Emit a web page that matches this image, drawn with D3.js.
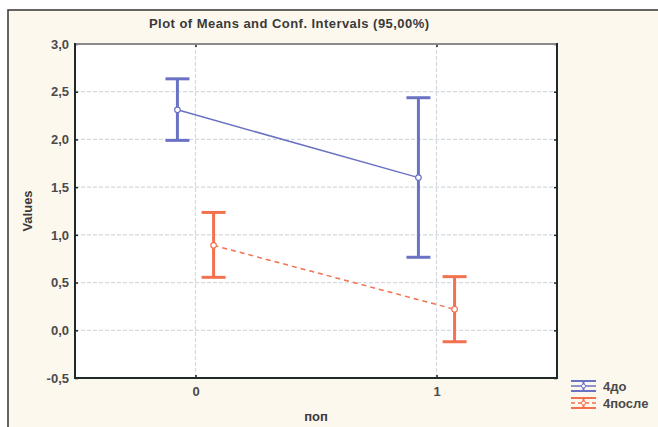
<!DOCTYPE html>
<html>
<head>
<meta charset="utf-8">
<script src="https://cdn.jsdelivr.net/npm/d3@7"></script>
<style>
  body { margin: 0; background: #fff; }
  text { font-family: "Liberation Sans", Arial, sans-serif; }
</style>
</head>
<body>
<script>
const svgWidth = 658;
const svgHeight = 427;

// data
const categories = [0, 1];
const seriesNames = ["4до", "4после"];
const meansDo = [2.31, 1.60];
const lowDo = [1.99, 0.765];
const highDo = [2.635, 2.437];
const meansPosle = [0.89, 0.22];
const lowPosle = [0.555, -0.12];
const highPosle = [1.235, 0.562];
const yTicks = [-0.5, 0, 0.5, 1, 1.5, 2, 2.5, 3];

const colors = ["#6a73c3", "#f2714f"];
const offsets = [-0.075, 0.075];

const plot = {left: 75, top: 44, right: 557, bottom: 378};

const svg = d3.select("body").append("svg")
            .attr("width", svgWidth)
            .attr("height", svgHeight);

//background + frame
svg.append("rect").attr("x", 0).attr("y", 0).attr("width", svgWidth).attr("height", svgHeight).attr("fill", "#fff");
svg.append("rect").attr("x", 8).attr("y", 10).attr("width", svgWidth).attr("height", svgHeight)
   .attr("fill", "#fdf8ee").attr("stroke", "#333").attr("stroke-width", 1.5);

var xScale = d3.scaleLinear().domain([-0.5, 1.5]).range([plot.left, plot.right]);
var yScale = d3.scaleLinear().domain([-0.5, 3.0]).range([plot.bottom, plot.top]);

svg.append("rect")
   .attr("x", plot.left).attr("y", plot.top)
   .attr("width", plot.right - plot.left).attr("height", plot.bottom - plot.top)
   .attr("fill", "#fff");

//grid
yTicks.slice(1, -1).forEach(function(t) {
  svg.append("line")
     .attr("x1", plot.left).attr("x2", plot.right)
     .attr("y1", yScale(t)).attr("y2", yScale(t))
     .style("stroke", "#d3d9df").style("stroke-dasharray", "4,2").style("stroke-width", 1.2);
});
categories.forEach(function(c) {
  svg.append("line")
     .attr("x1", xScale(c)).attr("x2", xScale(c))
     .attr("y1", plot.top).attr("y2", plot.bottom)
     .style("stroke", "#d3d9df").style("stroke-dasharray", "4,2").style("stroke-width", 1.2);
});

//axes
var y_axis = d3.axisLeft(yScale).tickValues(yTicks).tickSize(-3)
               .tickFormat(d => d3.format(".1f")(d).replace(".", ",").replace("\u2212", "-"));
var y_axis_r = d3.axisRight(yScale).tickValues(yTicks).tickSize(-3).tickFormat("");
var x_axis = d3.axisBottom(xScale).tickValues(categories).tickSize(-3).tickFormat(d3.format("d"));
var x_axis_t = d3.axisTop(xScale).tickValues(categories).tickSize(-3).tickFormat("");

function styleAxis(g) {
  g.select(".domain").remove();
  g.selectAll(".tick line").attr("stroke", "#222").attr("stroke-width", 1.5);
  g.selectAll(".tick text").attr("fill", "#4a4a4a").style("font-size", "13px").style("font-weight", "bold");
}
svg.append("g").attr("transform", "translate(" + plot.left + ",0)").call(y_axis).call(styleAxis)
   .selectAll(".tick text").attr("x", -6);
svg.append("g").attr("transform", "translate(" + plot.right + ",0)").call(y_axis_r).call(styleAxis);
svg.append("g").attr("transform", "translate(0," + plot.bottom + ")").call(x_axis).call(styleAxis)
   .selectAll(".tick text").attr("y", 9);
svg.append("g").attr("transform", "translate(0," + plot.top + ")").call(x_axis_t).call(styleAxis);

//plot border
svg.append("line").attr("x1", plot.left).attr("x2", plot.right).attr("y1", plot.top).attr("y2", plot.top)
   .attr("stroke", "#8a8a8a").attr("stroke-width", 2);
svg.append("line").attr("x1", plot.left).attr("x2", plot.left).attr("y1", plot.top - 1).attr("y2", plot.bottom + 1)
   .attr("stroke", "#1e2a2a").attr("stroke-width", 2);
svg.append("line").attr("x1", plot.right).attr("x2", plot.right).attr("y1", plot.top - 1).attr("y2", plot.bottom + 1)
   .attr("stroke", "#1e2a2a").attr("stroke-width", 2);
svg.append("line").attr("x1", plot.left).attr("x2", plot.right).attr("y1", plot.bottom).attr("y2", plot.bottom)
   .attr("stroke", "#1e2a2a").attr("stroke-width", 2);

//series
const series = [
  {name: seriesNames[0], means: meansDo, low: lowDo, high: highDo, color: colors[0], off: offsets[0], dash: null},
  {name: seriesNames[1], means: meansPosle, low: lowPosle, high: highPosle, color: colors[1], off: offsets[1], dash: "5,4"}
];

const line = d3.line()
             .x(function(d) { return xScale(d[0]); })
             .y(function(d) { return yScale(d[1]); });

series.forEach(function(s) {
  let pts = categories.map((c, i) => [c + s.off, s.means[i]]);
  svg.append("path").attr("d", line(pts))
     .attr("fill", "none").attr("stroke", s.color).attr("stroke-width", 1.5)
     .style("stroke-dasharray", s.dash);
  categories.forEach(function(c, i) {
    let x = xScale(c + s.off);
    svg.append("line").attr("x1", x).attr("x2", x)
       .attr("y1", yScale(s.low[i])).attr("y2", yScale(s.high[i]))
       .attr("stroke", s.color).attr("stroke-width", 3);
    [s.low[i], s.high[i]].forEach(function(v) {
      svg.append("line").attr("x1", x - 12).attr("x2", x + 12)
         .attr("y1", yScale(v)).attr("y2", yScale(v))
         .attr("stroke", s.color).attr("stroke-width", 3);
    });
    svg.append("circle").attr("cx", x).attr("cy", yScale(s.means[i])).attr("r", 2.8)
       .attr("fill", "#fff").attr("stroke", s.color).attr("stroke-width", 1.2);
  });
});

//titles
svg.append("text").attr("x", 289).attr("y", 28).attr("text-anchor", "middle")
   .style("font-size", "13px").style("font-weight", "bold").attr("fill", "#3a3a3a")
   .attr("textLength", 280).attr("lengthAdjust", "spacing")
   .text("Plot of Means and Conf. Intervals (95,00%)");
svg.append("text").attr("transform", "translate(32," + ((plot.top + plot.bottom) / 2) + ") rotate(-90)")
   .attr("text-anchor", "middle").style("font-size", "13px").style("font-weight", "bold").attr("fill", "#3a3a3a")
   .text("Values");
svg.append("text").attr("x", (plot.left + plot.right) / 2).attr("y", 421).attr("text-anchor", "middle")
   .style("font-size", "13px").style("font-weight", "bold").attr("fill", "#3a3a3a")
   .text("поп");

//legend
series.forEach(function(s, i) {
  let y0 = 386 + i * 17;
  let g = svg.append("g").attr("transform", "translate(571," + y0 + ")");
  g.append("line").attr("x1", 0).attr("x2", 25).attr("y1", -5).attr("y2", -5).attr("stroke", s.color).attr("stroke-width", 2);
  g.append("line").attr("x1", 0).attr("x2", 25).attr("y1", 5).attr("y2", 5).attr("stroke", s.color).attr("stroke-width", 2);
  g.append("line").attr("x1", 0).attr("x2", 25).attr("y1", 0).attr("y2", 0).attr("stroke", s.color).attr("stroke-width", 1.5)
   .style("stroke-dasharray", s.dash ? "4,3" : null);
  g.append("line").attr("x1", 12.5).attr("x2", 12.5).attr("y1", -5).attr("y2", 5).attr("stroke", s.color).attr("stroke-width", 2);
  g.append("circle").attr("cx", 12.5).attr("cy", 0).attr("r", 2).attr("fill", "#fff").attr("stroke", s.color);
  g.append("text").attr("x", 32).attr("y", 5).style("font-size", "13px").style("font-weight", "bold")
   .attr("fill", "#4a4a4a").text(s.name);
});
</script>
</body>
</html>
